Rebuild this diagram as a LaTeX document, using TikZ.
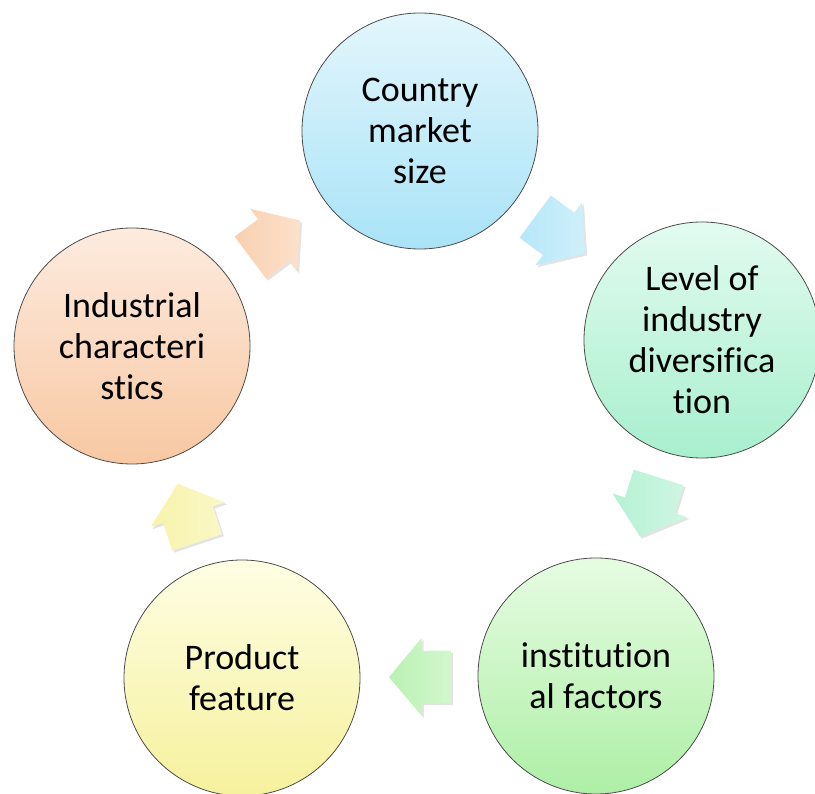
\documentclass[tikz,border=0pt]{standalone}
\usepackage{fontspec}
\setmainfont[Ligatures=NoCommon]{Carlito}
\usetikzlibrary{shapes.arrows, shadows, calc}

\definecolor{blueTop}{HTML}{E3F6FC}
\definecolor{blueBot}{HTML}{A9E3F7}
\definecolor{mintTop}{HTML}{E2FBF0}
\definecolor{mintBot}{HTML}{A8EFCD}
\definecolor{greenTop}{HTML}{E6FCE2}
\definecolor{greenBot}{HTML}{AEEFA6}
\definecolor{yellowTop}{HTML}{FEFEE4}
\definecolor{yellowBot}{HTML}{F6F19C}
\definecolor{peachTop}{HTML}{FDEBDF}
\definecolor{peachBot}{HTML}{F8C8A2}

\begin{document}
\begin{tikzpicture}[x=1pt, y=-1pt,
    factor/.style = {circle, minimum size=236pt, inner sep=0pt,
        draw=gray!60!black, line width=0.8pt, align=center,
        font=\fontsize{36}{41}\selectfont},
    flow/.style = {single arrow, minimum height=62pt,
        inner xsep=0pt, inner ysep=26pt,
        single arrow head extend=13pt, single arrow tip angle=100,
        draw=none,
        drop shadow={opacity=0.22, shadow xshift=2pt, shadow yshift=-2pt}}]
    \useasboundingbox (0,0) rectangle (815,794);
    % \draw [help lines, step=50] (0,0) grid (815,794);
    \node (f1) [factor, top color=blueTop, bottom color=blueBot]
        at (420,131) {Country\\market\\size};
    \node (f2) [factor, top color=mintTop, bottom color=mintBot]
        at (702,340) {Level of\\industry\\diversifica\\tion};
    \node (f3) [factor, top color=greenTop, bottom color=greenBot]
        at (596,676) {institution\\al factors};
    \node (f4) [factor, top color=yellowTop, bottom color=yellowBot]
        at (242,678) {Product\\feature};
    \node (f5) [factor, top color=peachTop, bottom color=peachBot]
        at (132,346) {Industrial\\characteri\\stics};

    % block arrows sit halfway between two circles
    \path let \p1 = ($(f2)-(f1)$), \n1 = {atan2(\y1,\x1)} in
        node (a1) [flow, rotate=\n1, xshift=-12pt,
            left color=blueBot!85, right color=blueBot!55]
        at ($(f1)!0.5!(f2)$) {};
    \path let \p1 = ($(f3)-(f2)$), \n1 = {atan2(\y1,\x1)} in
        node (a2) [flow, rotate=\n1, xshift=-12pt,
            left color=mintBot!85, right color=mintBot!55]
        at ($(f2)!0.5!(f3)$) {};
    \path let \p1 = ($(f4)-(f3)$), \n1 = {atan2(\y1,\x1)} in
        node (a3) [flow, rotate=\n1, xshift=-12pt,
            left color=greenBot!85, right color=greenBot!55]
        at ($(f3)!0.5!(f4)$) {};
    \path let \p1 = ($(f5)-(f4)$), \n1 = {atan2(\y1,\x1)} in
        node (a4) [flow, rotate=\n1, xshift=-12pt,
            left color=yellowBot!85, right color=yellowBot!55]
        at ($(f4)!0.5!(f5)$) {};
    \path let \p1 = ($(f1)-(f5)$), \n1 = {atan2(\y1,\x1)} in
        node (a5) [flow, rotate=\n1, xshift=-12pt,
            left color=peachBot!85, right color=peachBot!55]
        at ($(f5)!0.5!(f1)$) {};
\end{tikzpicture}
\end{document}
